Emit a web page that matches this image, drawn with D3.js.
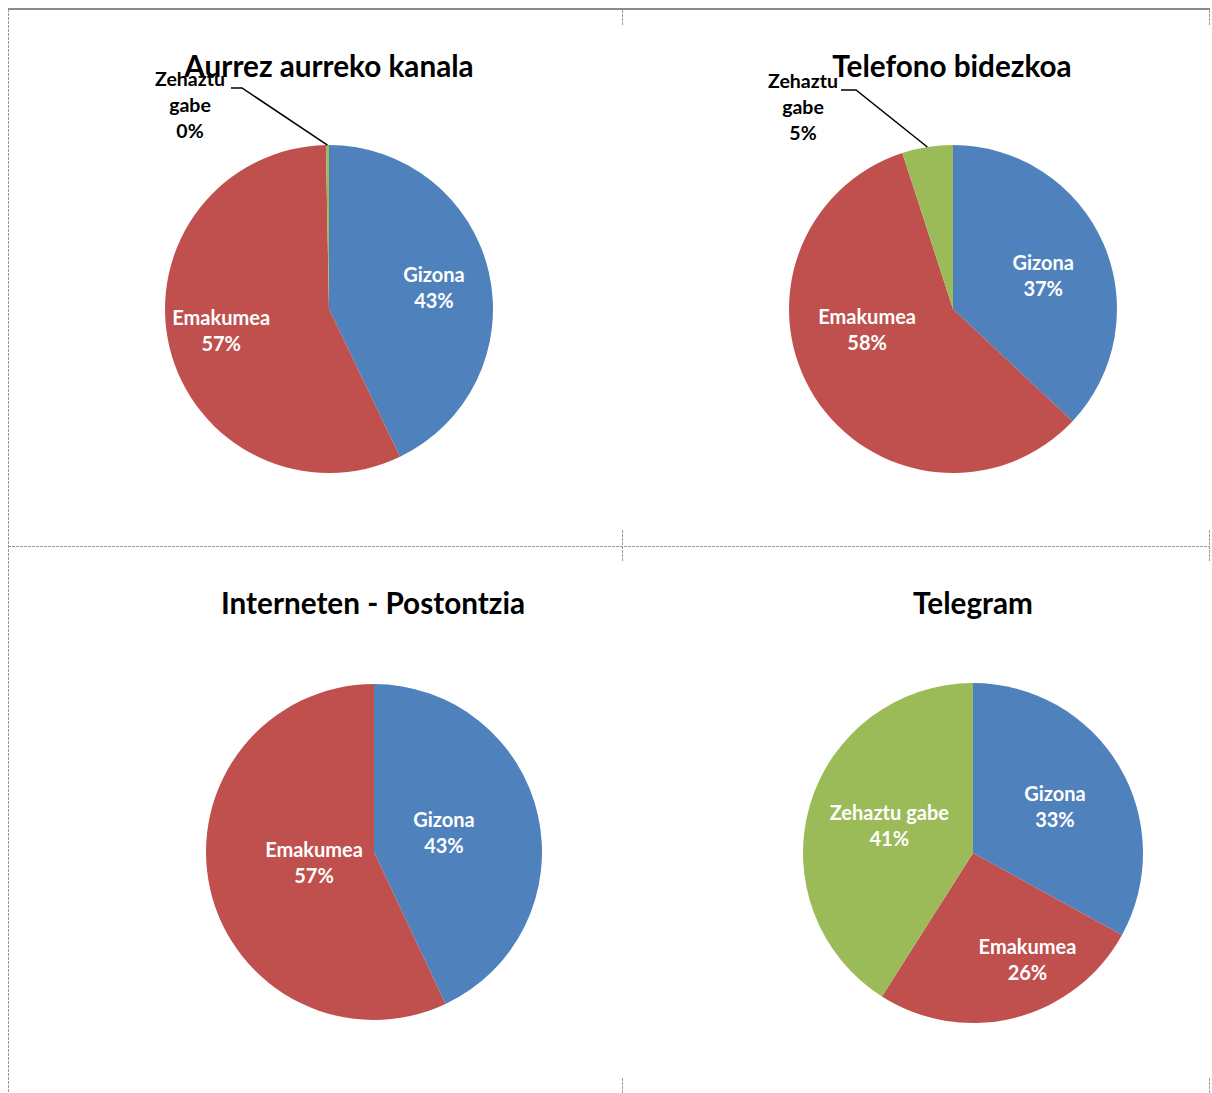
<!DOCTYPE html>
<html><head><meta charset="utf-8">
<script src="https://cdn.jsdelivr.net/npm/d3@7"></script>
<style>body{margin:0;background:#fff}svg{display:block}</style>
</head><body>
<script>
// ---- data ----
const titles = ["Aurrez aurreko kanala", "Telefono bidezkoa", "Interneten - Postontzia", "Telegram"];
const categories = ["Gizona", "Emakumea", "Zehaztu gabe"];
const gizona   = [43, 37, 43, 33];
const emakumea = [57, 58, 57, 26];
const zehaztu  = [0.3, 5, 0, 41];

// ---- layout ----
const W = 1212, H = 1093;
const colors = ["#4F81BD", "#C0504D", "#9BBB59"];
const panels = [
  {cx: 329, cy: 309, r: 164, tx: 329, ty: 77},
  {cx: 953, cy: 309, r: 164, tx: 952, ty: 77},
  {cx: 374, cy: 852, r: 168, tx: 373, ty: 614},
  {cx: 973, cy: 853, r: 170, tx: 973, ty: 614}
];
// label placement per panel/category: [angleDeg, radiusPx] inside, or outside text + leader elbow
const labelPlace = [
  [[78.7, 107], [258.5, 110], {out: [190, 79], elbow: [231, 242, 88]}],
  [[70, 96], [256, 88.5], {out: [803, 81], elbow: [841, 856, 90]}],
  [[74.8, 72.5], [259.6, 61], null],
  [[60.7, 94], [153, 120], [288, 88]]
];

const svg = d3.select("body").append("svg").attr("width", W).attr("height", H);

// page border decorations
const dec = svg.append("g").attr("stroke", "#999").attr("fill", "none");
dec.append("line").attr("x1", 8).attr("x2", 1210).attr("y1", 9).attr("y2", 9).attr("stroke-width", 2).attr("stroke", "#8a8a8a");
dec.append("line").attr("x1", 8.5).attr("x2", 8.5).attr("y1", 9).attr("y2", H).attr("stroke-dasharray", "3,1");
dec.append("line").attr("x1", 8).attr("x2", 1210).attr("y1", 546.5).attr("y2", 546.5).attr("stroke-dasharray", "3,1");
[[622.5, 10, 25], [622.5, 530, 562], [622.5, 1078, 1093], [1209.5, 10, 25], [1209.5, 530, 561], [1209.5, 1078, 1093]]
  .forEach(([x, a, b]) => dec.append("line").attr("x1", x).attr("x2", x).attr("y1", a).attr("y2", b).attr("stroke-dasharray", "3,1"));

const pie = d3.pie().sort(null).value(d => d.v);
const rad = a => a * Math.PI / 180;

titles.forEach((t, i) => {
  const p = panels[i];
  const data = categories.map((c, k) => ({c, k, v: [gizona, emakumea, zehaztu][k][i]}));
  const total = d3.sum(data, d => d.v);
  const arcs = pie(data);
  const arc = d3.arc().innerRadius(0).outerRadius(p.r);
  const g = svg.append("g").attr("transform", `translate(${p.cx},${p.cy})`);
  g.selectAll("path").data(arcs.filter(d => d.data.v > 0)).join("path")
    .attr("d", arc).attr("fill", d => colors[d.data.k]);

  svg.append("text").attr("x", p.tx).attr("y", p.ty).attr("text-anchor", "middle")
    .attr("font-family", "Lato, sans-serif").attr("font-weight", "bold").attr("font-size", 29.7)
    .attr("fill", "#000").text(t);

  arcs.forEach(d => {
    const lp = labelPlace[i][d.data.k];
    if (!lp) return;
    const pct = Math.round(d.data.v / total * 100) + "%";
    if (Array.isArray(lp)) {
      const x = p.cx + lp[1] * Math.sin(rad(lp[0]));
      const y = p.cy - lp[1] * Math.cos(rad(lp[0]));
      const tx = svg.append("text").attr("text-anchor", "middle")
        .attr("font-family", "Lato, sans-serif").attr("font-weight", "bold").attr("font-size", 20)
        .attr("fill", "#fff");
      [d.data.c, pct].forEach((ln, j) => tx.append("tspan").attr("x", x).attr("y", y - 6 + j * 26).text(ln));
    } else {
      const [ox, oy] = lp.out;
      const words = d.data.c.split(" ");
      const tx = svg.append("text").attr("text-anchor", "middle")
        .attr("font-family", "Lato, sans-serif").attr("font-weight", "bold").attr("font-size", 19.5)
        .attr("fill", "#000");
      [words[0], words[1], pct].forEach((ln, j) => tx.append("tspan").attr("x", ox).attr("y", oy + 7 + j * 26).text(ln));
      const mid = (d.startAngle + d.endAngle) / 2;
      const ex = p.cx + p.r * Math.sin(mid), ey = p.cy - p.r * Math.cos(mid);
      const [x1, x2, ly] = lp.elbow;
      svg.append("path").attr("d", `M${x1},${ly}L${x2},${ly}L${ex},${ey}`)
        .attr("fill", "none").attr("stroke", "#000").attr("stroke-width", 1.5);
    }
  });
});
</script>
</body></html>
